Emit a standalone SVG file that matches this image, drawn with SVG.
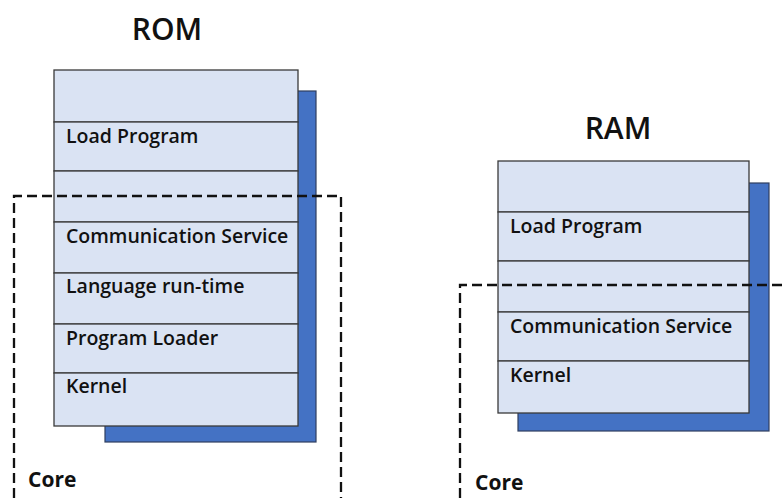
<svg xmlns="http://www.w3.org/2000/svg" width="782" height="498" viewBox="0 0 782 498">
<style>
.shadow{fill:#4472c4;stroke:#2f3f5f;stroke-width:1.2}
.cell{fill:#dae3f3;stroke:#3a3a3a;stroke-width:1.3}
.lbl{font-family:"Open Sans","Liberation Sans",sans-serif;font-weight:600;font-size:19.5px;fill:#111}
.title{font-family:"Open Sans","Liberation Sans",sans-serif;font-weight:600;font-size:30px;fill:#111;text-anchor:middle}
.core{font-family:"Open Sans","Liberation Sans",sans-serif;font-weight:700;font-size:21px;fill:#111}
.dash{fill:none;stroke:#111;stroke-width:2.3;stroke-dasharray:10 5}
</style>
<g id="rom">
<text class="title" x="167" y="40">ROM</text>
<rect class="shadow" x="105" y="91" width="211" height="351"/>
<rect class="cell" x="54" y="70" width="244" height="52"/>
<rect class="cell" x="54" y="122" width="244" height="49"/>
<rect class="cell" x="54" y="171" width="244" height="51"/>
<rect class="cell" x="54" y="222" width="244" height="51"/>
<rect class="cell" x="54" y="273" width="244" height="51"/>
<rect class="cell" x="54" y="324" width="244" height="49"/>
<rect class="cell" x="54" y="373" width="244" height="53"/>
<text class="lbl" x="66" y="143">Load Program</text>
<text class="lbl" x="66" y="243">Communication Service</text>
<text class="lbl" x="66" y="293">Language run-time</text>
<text class="lbl" x="66" y="345">Program Loader</text>
<text class="lbl" x="66" y="393">Kernel</text>
</g>
<g id="ram">
<text class="title" x="618" y="139">RAM</text>
<rect class="shadow" x="518" y="183" width="251" height="248"/>
<rect class="cell" x="498" y="161" width="251" height="51"/>
<rect class="cell" x="498" y="212" width="251" height="49"/>
<rect class="cell" x="498" y="261" width="251" height="51"/>
<rect class="cell" x="498" y="312" width="251" height="49"/>
<rect class="cell" x="498" y="361" width="251" height="52"/>
<text class="lbl" x="510" y="233">Load Program</text>
<text class="lbl" x="510" y="333">Communication Service</text>
<text class="lbl" x="510" y="382">Kernel</text>
</g>
<g id="core-rom">
<path class="dash" d="M14,498 V196 H341 V498"/>
<text class="core" x="28" y="487">Core</text>
</g>
<g id="core-ram">
<path class="dash" d="M460,498 V285 H790"/>
<text class="core" x="475" y="490">Core</text>
</g>
<g id="connectors"/>
</svg>
